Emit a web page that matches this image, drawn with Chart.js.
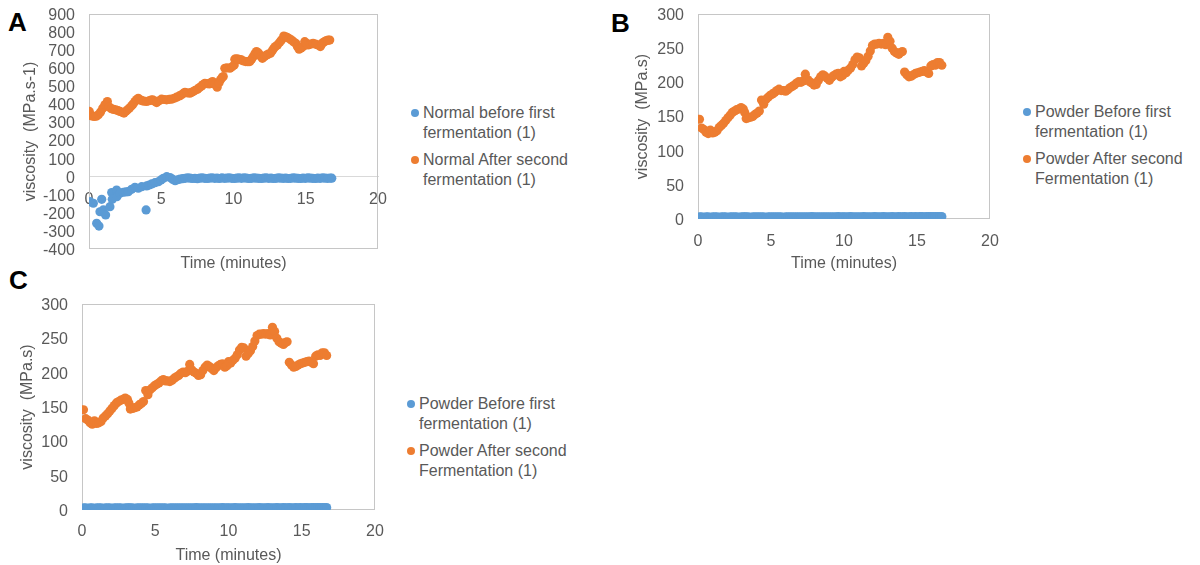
<!DOCTYPE html>
<html><head><meta charset="utf-8">
<script src="https://cdn.jsdelivr.net/npm/chart.js@4"></script>
<style>
html,body{margin:0;padding:0;background:#fff;width:1200px;height:565px;overflow:hidden;font-family:'Liberation Sans',Arial,sans-serif;}
canvas{position:absolute;}
.letter{position:absolute;font-weight:bold;font-size:26px;line-height:26px;color:#000;}
.legend{position:absolute;font-size:16px;line-height:19.5px;color:#595959;white-space:nowrap;}
.item{position:relative;margin-bottom:8px;}
.dot{position:absolute;width:8px;height:8px;border-radius:50%;left:-12px;top:6px;}
</style></head>
<body>
<div class="letter" style="left:8px;top:9px;">A</div>
<div class="letter" style="left:611px;top:10px;">B</div>
<div class="letter" style="left:9px;top:267px;">C</div>

<canvas id="cA" width="390" height="285" style="left:0;top:0;width:390px;height:285px;"></canvas>
<canvas id="cB" width="400" height="285" style="left:600px;top:0;width:400px;height:285px;"></canvas>
<canvas id="cC" width="390" height="275" style="left:0;top:290px;width:390px;height:275px;"></canvas>

<div class="legend" id="legA" style="left:423px;top:103px;"></div>
<div class="legend" id="legB" style="left:1035px;top:102px;"></div>
<div class="legend" id="legC" style="left:419px;top:394px;"></div>

<script>
// ---- Panel A: Normal ----
const normalAfterTime = [0.02,0.18,0.35,0.5,0.65,0.8,0.95,1.1,1.27,1.4,
 1.55,1.7,1.85,2.0,2.14,2.3,2.42,2.55,2.67,2.8,
 2.95,3.05,3.18,3.3,3.41,3.55,3.64,3.8,3.99,4.15,
 4.3,4.4,4.55,4.68,4.85,5.02,5.2,5.37,5.55,5.71,
 5.9,6.06,6.25,6.4,6.55,6.64,6.8,6.98,7.1,7.21,
 7.35,7.51,7.65,7.79,7.9,8.02,8.17,8.32,8.45,8.55,
 8.7,8.87,9.0,9.1,9.2,9.29,9.4,9.55,9.75,9.9,
 10.05,10.09,10.2,10.32,10.45,10.55,10.7,10.85,11.0,11.13,
 11.25,11.36,11.48,11.59,11.7,11.77,11.9,12.0,12.15,12.28,
 12.4,12.56,12.68,12.79,12.9,13.04,13.2,13.32,13.48,13.6,
 13.71,13.85,14.01,14.15,14.31,14.42,14.54,14.68,14.82,14.93,
 15.05,15.16,15.33,15.51,15.68,15.85,16.01,16.1,16.2,16.32,
 16.43,16.55,16.66];
const normalAfter = [361,336,333,335,342,358,378,398,416,385,
 376,372,370,366,361,356,352,362,370,380,
 392,402,416,427,434,425,421,418,416,420,
 424,425,418,410,420,429,427,425,428,429,
 434,440,447,453,462,466,464,462,467,471,
 478,484,493,502,510,517,515,513,520,526,
 512,495,520,536,548,554,600,602,600,608,
 618,650,652,650,648,646,640,637,636,637,
 650,664,680,692,685,679,665,655,665,673,
 678,683,697,710,720,729,744,756,778,774,
 771,764,756,747,738,720,705,712,720,747,
 738,729,733,738,733,729,720,732,742,748,
 753,755,756];
const normalBeforeTime = [0.07,0.3,0.53,0.69,0.76,0.88,0.99,1.15,1.45,1.57,
 1.61,1.91,1.93,2.15,2.37,2.55,2.72,2.95,3.18,3.41,
 3.65,3.95,3.99,4.17,4.34,4.57,4.8,4.98,5.15,5.38,
 5.61,5.8,5.96,6.13,6.3,6.48,6.65,6.82,6.99,7.16,
 7.33,7.5,7.67,7.84,8.01,8.18,8.35,8.52,8.69,8.86,
 9.03,9.2,9.37,9.54,9.71,9.88,10.05,10.22,10.39,10.56,
 10.73,10.9,11.07,11.24,11.41,11.58,11.75,11.92,12.09,12.26,
 12.43,12.6,12.77,12.94,13.11,13.28,13.45,13.62,13.79,13.96,
 14.13,14.3,14.47,14.64,14.81,14.98,15.15,15.32,15.49,15.66,
 15.83,16.0,16.17,16.34,16.51,16.68,16.8];
const normalBefore = [-138,-147,-258,-273,-194,-125,-184,-212,-166,-88,
 -125,-74,-111,-92,-86,-84,-83,-70,-59,-64,
 -55,-184,-51,-46,-40,-33,-28,-18,-9,0,
 -5,-15,-22,-17,-13,-11,-9,-6,-8,-10,
 -9,-11,-8,-7,-9,-10,-8,-6,-9,-8,
 -10,-7,-9,-8,-6,-9,-10,-8,-7,-9,
 -6,-8,-10,-9,-7,-8,-9,-10,-8,-7,
 -9,-8,-10,-9,-7,-8,-9,-8,-10,-9,
 -7,-8,-9,-10,-8,-9,-7,-8,-9,-10,
 -8,-9,-7,-8,-9,-8,-8];

// ---- Panels B and C: Powder ----
const powderTime = [0.1,0.25,0.4,0.55,0.7,0.85,1.0,1.15,1.3,1.45,
 1.6,1.75,1.9,2.05,2.2,2.35,2.5,2.65,2.8,2.95,
 3.1,3.2,3.3,3.45,3.6,3.75,3.9,4.05,4.2,4.35,
 4.5,4.65,4.8,4.95,5.1,5.25,5.4,5.55,5.7,5.85,
 6.0,6.15,6.3,6.45,6.6,6.75,6.9,7.05,7.2,7.35,
 7.5,7.65,7.8,7.95,8.1,8.25,8.4,8.55,8.7,8.85,
 9.0,9.15,9.3,9.45,9.6,9.75,9.9,10.0,10.15,10.3,
 10.45,10.6,10.75,10.9,11.05,11.2,11.35,11.5,11.65,11.8,
 11.95,12.1,12.25,12.4,12.55,12.7,12.85,13.0,13.15,13.3,
 13.45,13.6,13.75,13.9,14.0,14.15,14.3,14.45,14.6,14.75,
 14.9,15.05,15.2,15.35,15.5,15.65,15.8,15.95,16.1,16.25,
 16.4,16.55,16.7];
const powderAfter = [146,133,131,127,125,130,126,127,129,134,
 137,140,144,148,152,156,158,160,161,163,
 161,156,147,148,149,150,153,155,158,174,
 168,175,178,181,183,185,188,190,188,188,
 187,189,192,194,196,199,201,200,202,212,
 204,201,199,196,197,203,208,211,209,206,
 203,207,210,212,213,208,210,216,214,218,
 221,226,233,237,236,224,228,232,238,246,
 254,256,256,257,256,257,255,266,260,250,
 245,243,241,244,245,215,211,208,209,211,
 213,214,215,216,217,215,213,224,226,225,
 229,229,225];
const powderBefore = [3,3,2.5,3,3,2.5,3,3,3,2.5,
 3,3,3,2.5,3,3,3,3,2.5,3,
 3,3,3,3,2.5,3,3,3,3,3,
 3,2.5,3,3,3,3,3,3,3,2.5,
 3,3,3,3,3,3,3,3,3,3,
 3,3,3.5,3,3,3,3,3,3,3,
 3,3,3,3,3.5,3,3,3,3,3,
 3.5,3,3,3,3,3,3.5,3,3,3,
 3,3.5,3,3,3,3.5,3,3,3,3.5,
 3,3,3.5,3,3,3.5,3,3,3.5,3,
 3.5,3,3.5,3.5,3,3.5,3.5,3.5,3.5,3.5,
 3.5,3.5,3.5];

const xTicksMax = 20, xStep = 5;
const BLUE = '#5B9BD5', ORANGE = '#ED7D31', TEXT = '#595959';

Chart.defaults.font.family = "'Liberation Sans', Arial, sans-serif";
Chart.defaults.font.size = 16;
Chart.defaults.color = TEXT;

const pairs = (xs, ys) => xs.map((x, i) => ({x, y: ys[i]}));

const boxPlugin = {
  id: 'plotBox',
  beforeDatasetsDraw(chart) {
    const {ctx, chartArea: a} = chart;
    ctx.save();
    ctx.strokeStyle = '#c6c6c6';
    ctx.lineWidth = 1;
    const l = Math.round(a.left) + 0.5, t = Math.round(a.top) + 0.5;
    const r = Math.round(a.right) - 0.5, b = Math.round(a.bottom) - 0.5;
    ctx.strokeRect(l, t, r - l, b - t);
    ctx.restore();
  }
};

function fix(w, h) {
  return s => {
    s.paddingLeft = 0; s.paddingRight = 0; s.paddingTop = 0; s.paddingBottom = 0;
    if (w != null) s.width = w;
    if (h != null) s.height = h;
  };
}

function ds(label, xs, ys, color) {
  return {label, data: pairs(xs, ys), xAxisID: 'x', yAxisID: 'y',
    backgroundColor: color, borderColor: color, pointRadius: 4.6, pointBorderWidth: 0, pointHoverRadius: 4.6};
}

// Chart A
new Chart(document.getElementById('cA'), {
  type: 'scatter',
  data: {datasets: [
    ds('Normal before first fermentation (1)', normalBeforeTime, normalBefore, BLUE),
    ds('Normal After second fermentation (1)', normalAfterTime, normalAfter, ORANGE)
  ]},
  options: {
    responsive: false, animation: false, events: [],
    layout: {padding: {left: 0, top: 14, right: 12, bottom: 0}},
    plugins: {legend: {display: false}, tooltip: {enabled: false}},
    scales: {
      x: {type: 'linear', position: {y: 0}, min: 0, max: xTicksMax,
        ticks: {stepSize: xStep, padding: 13, autoSkip: false, maxRotation: 0},
        grid: {display: false, drawTicks: false}, border: {display: true, color: '#d9d9d9'},
        afterFit: fix(null, null)},
      x2: {type: 'linear', position: 'bottom', min: 0, max: xTicksMax,
        ticks: {display: false}, grid: {display: false, drawTicks: false}, border: {display: false},
        title: {display: true, text: 'Time (minutes)', padding: {top: 0, bottom: 11.4}},
        afterFit: fix(null, 36)},
      y: {type: 'linear', min: -400, max: 900,
        ticks: {stepSize: 100, padding: 14, autoSkip: false, labelOffset: 1.5},
        grid: {display: false, drawTicks: false}, border: {display: false},
        title: {display: true, text: 'viscosity  (MPa.s-1)', padding: {top: 21, bottom: 0}},
        afterFit: fix(89, null)}
    }
  },
  plugins: [boxPlugin]
});

function powderChart(id, cfg) {
  new Chart(document.getElementById(id), {
    type: 'scatter',
    data: {datasets: [
      ds('Powder Before first fermentation (1)', powderTime, powderBefore, BLUE),
      ds('Powder After second Fermentation (1)', powderTime, powderAfter, ORANGE)
    ]},
    options: {
      responsive: false, animation: false, events: [],
      layout: {padding: {left: 0, top: 14, right: cfg.right, bottom: 0}},
      plugins: {legend: {display: false}, tooltip: {enabled: false}},
      scales: {
        x: {type: 'linear', position: 'bottom', min: 0, max: xTicksMax,
          ticks: {stepSize: xStep, padding: cfg.tickPad, autoSkip: false, maxRotation: 0},
          grid: {display: false, drawTicks: false}, border: {display: false},
          title: {display: true, text: 'Time (minutes)', padding: {top: 0, bottom: cfg.titlePad}},
          afterFit: fix(null, cfg.xh)},
        y: {type: 'linear', min: 0, max: 300,
          ticks: {stepSize: 50, padding: 14, autoSkip: false, labelOffset: 1.5},
          grid: {display: false, drawTicks: false}, border: {display: false},
          title: {display: true, text: 'viscosity  (MPa.s)', padding: {top: cfg.ytPad, bottom: 0}},
          afterFit: fix(cfg.yw, null)}
      }
    },
    plugins: [boxPlugin]
  });
}
powderChart('cB', {right: 10, tickPad: 13.4, titlePad: 11.4, xh: 66, ytPad: 33.4, yw: 98});
powderChart('cC', {right: 15, tickPad: 12, titlePad: 0, xh: 55, ytPad: 18.4, yw: 82});

// HTML legends
function legend(id, items) {
  const el = document.getElementById(id);
  items.forEach(([lines, color]) => {
    const it = document.createElement('div');
    it.className = 'item';
    const dot = document.createElement('span');
    dot.className = 'dot';
    dot.style.background = color;
    it.appendChild(dot);
    lines.forEach((ln, i) => {
      if (i) it.appendChild(document.createElement('br'));
      it.appendChild(document.createTextNode(ln));
    });
    el.appendChild(it);
  });
}
legend('legA', [[['Normal before first', 'fermentation (1)'], BLUE], [['Normal After second', 'fermentation (1)'], ORANGE]]);
legend('legB', [[['Powder Before first', 'fermentation (1)'], BLUE], [['Powder After second', 'Fermentation (1)'], ORANGE]]);
legend('legC', [[['Powder Before first', 'fermentation (1)'], BLUE], [['Powder After second', 'Fermentation (1)'], ORANGE]]);
</script>
</body></html>
